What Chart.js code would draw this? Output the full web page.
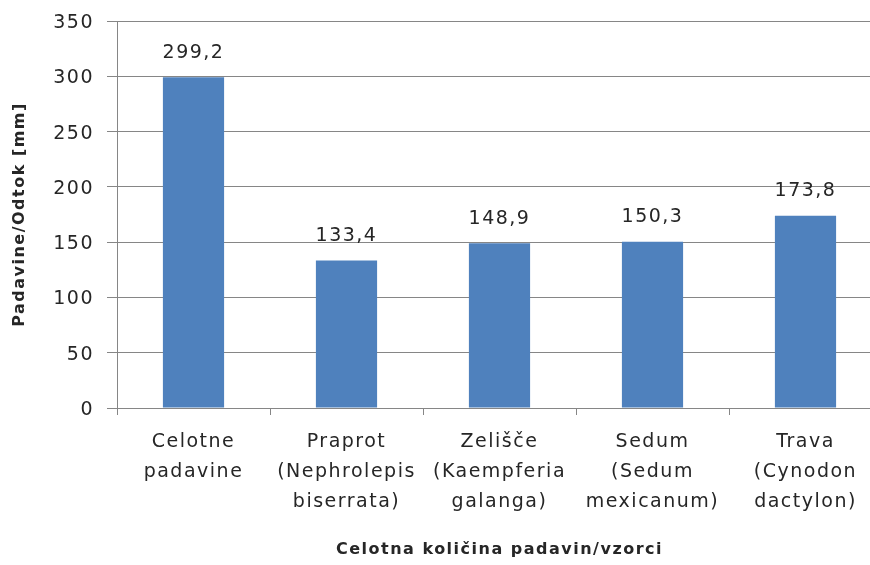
<!DOCTYPE html>
<html>
<head>
<meta charset="utf-8">
<script src="https://cdn.jsdelivr.net/npm/chart.js@4"></script>
<style>
  html, body { margin: 0; padding: 0; background: #fff; overflow: hidden; }
  #wrap { width: 882px; height: 565px; }
</style>
</head>
<body>
<div id="wrap"><canvas id="chart" width="882" height="565"></canvas></div>
<script>
    const categories = [
        ['Celotne', 'padavine'],
        ['Praprot', '(Nephrolepis', 'biserrata)'],
        ['Zelišče', '(Kaempferia', 'galanga)'],
        ['Sedum', '(Sedum', 'mexicanum)'],
        ['Trava', '(Cynodon', 'dactylon)']
    ];
    const values = [299.2, 133.4, 148.9, 150.3, 173.8];
    const yMin = 0, yMax = 350, yStep = 50;

    const textColor = '#262626';
    const gridColor = '#868686';

    // canvas resets its state on resize, so set spacing before layout and draw
    const spacing = {
        id: 'spacing',
        beforeUpdate(chart) { chart.ctx.letterSpacing = '1.5px'; },
        beforeDraw(chart) { chart.ctx.letterSpacing = '1.5px'; }
    };

    const valueLabels = {
        id: 'valueLabels',
        afterDatasetsDraw(chart) {
            const ctx = chart.ctx;
            const meta = chart.getDatasetMeta(0);
            ctx.save();
            ctx.font = '19px "DejaVu Sans"';
            ctx.fillStyle = textColor;
            ctx.textAlign = 'center';
            ctx.textBaseline = 'bottom';
            meta.data.forEach((bar, i) => {
                const txt = values[i].toFixed(1).replace('.', ',');
                ctx.fillText(txt, bar.x, bar.y - 15);
            });
            ctx.restore();
        }
    };

    new Chart(document.getElementById('chart').getContext('2d'), {
        type: 'bar',
        data: {
            labels: categories,
            datasets: [{
                data: values,
                backgroundColor: '#4F81BD',
                categoryPercentage: 1,
                barPercentage: 0.4
            }]
        },
        options: {
            animation: false,
            responsive: false,
            layout: { padding: { top: 21, right: 0, bottom: 0, left: 0 } },
            plugins: {
                legend: { display: false },
                tooltip: { enabled: false }
            },
            scales: {
                x: {
                    grid: {
                        display: true,
                        drawOnChartArea: false,
                        tickLength: 7,
                        color: gridColor
                    },
                    border: { color: gridColor },
                    ticks: {
                        color: textColor,
                        font: { family: 'DejaVu Sans', size: 19, lineHeight: 1.58 },
                        padding: 12,
                        maxRotation: 0,
                        autoSkip: false
                    },
                    title: {
                        display: true,
                        text: 'Celotna količina padavin/vzorci',
                        color: textColor,
                        font: { family: 'DejaVu Sans', size: 16, weight: 'bold' },
                        padding: { top: 0, bottom: 6 }
                    },
                    afterFit(scale) { scale.height = 157; }
                },
                y: {
                    min: yMin,
                    max: yMax,
                    grid: { color: gridColor, tickLength: 10 },
                    border: { color: gridColor },
                    ticks: {
                        stepSize: yStep,
                        color: textColor,
                        font: { family: 'DejaVu Sans', size: 19 },
                        padding: 13,
                        labelOffset: 2
                    },
                    title: {
                        display: true,
                        text: 'Padavine/Odtok [mm]',
                        color: textColor,
                        font: { family: 'DejaVu Sans', size: 16, weight: 'bold' },
                        padding: { top: 10, bottom: 0 }
                    },
                    afterFit(scale) {
                        scale.width = 117;
                        scale.paddingTop = 10;
                        scale.paddingBottom = 10;
                    }
                }
            }
        },
        plugins: [spacing, valueLabels]
    });
</script>
</body>
</html>
